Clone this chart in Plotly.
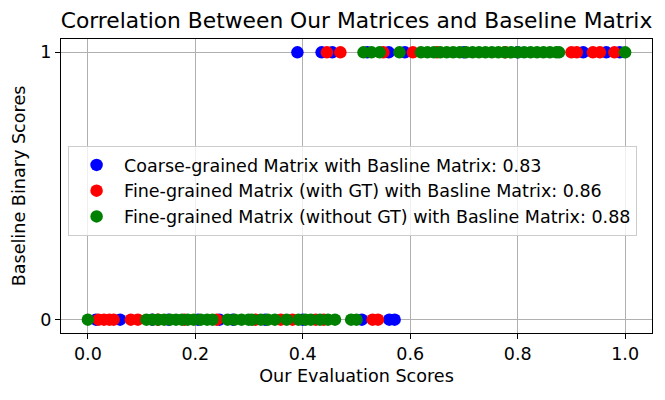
import plotly.graph_objects as go

# Baseline binary score = 0
blue_zero = [0.015, 0.06, 0.12, 0.15, 0.205, 0.245, 0.27, 0.33, 0.40, 0.51, 0.561, 0.571]
red_zero = [0.02, 0.03, 0.04, 0.048, 0.08, 0.093, 0.13, 0.18, 0.24, 0.312, 0.359, 0.381,
            0.424, 0.439, 0.53, 0.54]
green_zero = [0.0, 0.109, 0.12, 0.131, 0.142, 0.153, 0.164, 0.175, 0.186, 0.197, 0.21, 0.222,
              0.232, 0.26, 0.273, 0.286, 0.299, 0.305, 0.322, 0.335, 0.348, 0.37, 0.392,
              0.405, 0.415, 0.432, 0.447, 0.46, 0.49, 0.50]

# Baseline binary score = 1
blue_one = [0.39, 0.435, 0.455, 0.52, 0.56, 0.59, 0.70, 0.80, 0.922, 0.965, 0.99]
red_one = [0.445, 0.47, 0.55, 0.605, 0.65, 0.777, 0.90, 0.91, 0.94, 0.953, 0.98]
green_one = [0.513, 0.528, 0.543, 0.58, 0.62, 0.632, 0.644, 0.656, 0.668, 0.68, 0.692,
             0.704, 0.716, 0.728, 0.74, 0.752, 0.764, 0.776, 0.788, 0.8, 0.812, 0.824,
             0.836, 0.848, 0.86, 0.872, 0.877, 1.0]

names = ["Coarse-grained Matrix with Basline Matrix: 0.83",
         "Fine-grained Matrix (with GT) with Basline Matrix: 0.86",
         "Fine-grained Matrix (without GT) with Basline Matrix: 0.88"]
colors = ["blue", "red", "green"]
series = [(blue_zero, blue_one), (red_zero, red_one), (green_zero, green_one)]

fig = go.Figure()
for i, ((z, o), name, c) in enumerate(zip(series, names, colors)):
    xs = list(z) + list(o)
    ys = [0] * len(z) + [1] * len(o)
    fig.add_trace(go.Scatter(x=xs, y=ys, mode="markers", name=name,
                             legendgroup=f"g{i}",
                             marker=dict(color=c, size=12.5, line=dict(width=0))))

font = "DejaVu Sans, sans-serif"
fig.update_layout(
    width=665, height=400,
    margin=dict(l=61, r=13, t=39, b=67),
    paper_bgcolor="white", plot_bgcolor="white",
    font=dict(family=font, size=17.5, color="black"),
    title=dict(text="Correlation Between Our Matrices and Baseline Matrix",
               x=0.5, xref="paper", xanchor="center", y=0.95, yanchor="middle",
               font=dict(size=21.8)),
    legend=dict(x=0.012, y=0.636, xanchor="left", yanchor="top",
                bgcolor="rgba(255,255,255,0.8)", bordercolor="#cccccc", borderwidth=1,
                font=dict(size=17.5), traceorder="grouped", tracegroupgap=0,
                itemwidth=45),
    showlegend=True,
)
fig.update_xaxes(range=[-0.05, 1.05], tickvals=[0, 0.2, 0.4, 0.6, 0.8, 1.0],
                 ticktext=["0.0", "0.2", "0.4", "0.6", "0.8", "1.0"],
                 showgrid=True, gridcolor="#b0b0b0", gridwidth=1,
                 showline=True, linecolor="black", linewidth=1, mirror=True,
                 ticks="outside", ticklen=5, tickcolor="black", zeroline=False,
                 automargin=True,
                 title=dict(text="Our Evaluation Scores", standoff=6,
                            font=dict(size=17.6)))
fig.update_yaxes(range=[-0.05, 1.05], tickvals=[0, 1], ticktext=["0", "1"],
                 showgrid=True, gridcolor="#b0b0b0", gridwidth=1,
                 showline=True, linecolor="black", linewidth=1, mirror=True,
                 ticks="outside", ticklen=5, tickcolor="black", zeroline=False,
                 automargin=True,
                 title=dict(text="Baseline Binary Scores", standoff=10,
                            font=dict(size=17.6)))

fig.write_html("out.html", config={"displayModeBar": False},
               post_script="document.body.style.margin='0';")
